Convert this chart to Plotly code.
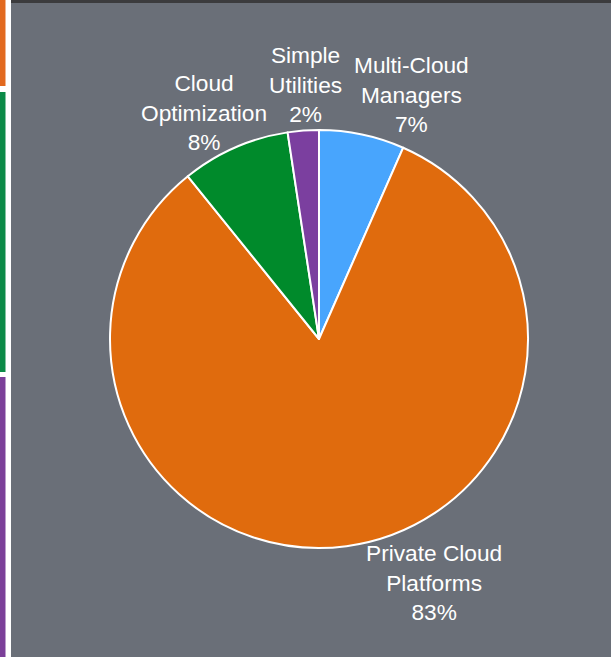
import plotly.graph_objects as go

categories = ["Multi-Cloud<br>Managers", "Private Cloud<br>Platforms", "Cloud<br>Optimization", "Simple<br>Utilities"]
values = [6.6, 82.6, 8.4, 2.4]
colors = ["#48a5fd", "#e06b0d", "#008a2b", "#7b3f9f"]

# label anchor centres in pixels (layout only)
label_pos = [(411, 95), (434, 582), (204, 112), (305, 84)]

W, H = 611, 657
fig = go.Figure()
fig.add_trace(go.Pie(
    labels=categories, values=values, sort=False, direction="clockwise", rotation=0,
    marker=dict(colors=colors, line=dict(color="white", width=2)),
    textinfo="none", hoverinfo="label+percent", automargin=False,
    hole=0, showlegend=False,
    domain=dict(x=[(319-209)/W, (319+209)/W], y=[1-548/H, 1-130/H]),
))

total = sum(values)
annotations = []
for cat, v, (px, py) in zip(categories, values, label_pos):
    annotations.append(dict(
        text=f"{cat}<br>{round(100*v/total)}%", x=px/W, y=1-py/H, xref="paper", yref="paper",
        xanchor="center", yanchor="middle", showarrow=False, align="center",
        font=dict(family="Liberation Sans, Arial", size=22.7, color="white"),
    ))

shapes = [
    dict(type="rect", xref="paper", yref="paper", x0=11/W, x1=1, y0=0, y1=1, fillcolor="#6a6f78", line_width=0, layer="below"),
    dict(type="rect", xref="paper", yref="paper", x0=11/W, x1=1, y0=1-3/H, y1=1, fillcolor="#3b3b3d", line_width=0, layer="below"),
    dict(type="rect", xref="paper", yref="paper", x0=0, x1=5.5/W, y0=1-86/H, y1=1, fillcolor="#e2691f", line_width=0, layer="below"),
    dict(type="rect", xref="paper", yref="paper", x0=0, x1=5.5/W, y0=1-372/H, y1=1-92/H, fillcolor="#0b8a47", line_width=0, layer="below"),
    dict(type="rect", xref="paper", yref="paper", x0=0, x1=5.5/W, y0=0, y1=1-377/H, fillcolor="#7b3f99", line_width=0, layer="below"),
]
fig.update_layout(width=W, height=H, margin=dict(l=0, r=0, t=0, b=0, autoexpand=False),
                  paper_bgcolor="white", plot_bgcolor="white", shapes=shapes, annotations=annotations)
fig.write_html("out.html", config={"displayModeBar": False},
               post_script="document.body.style.margin='0';document.body.style.overflow='hidden';")
